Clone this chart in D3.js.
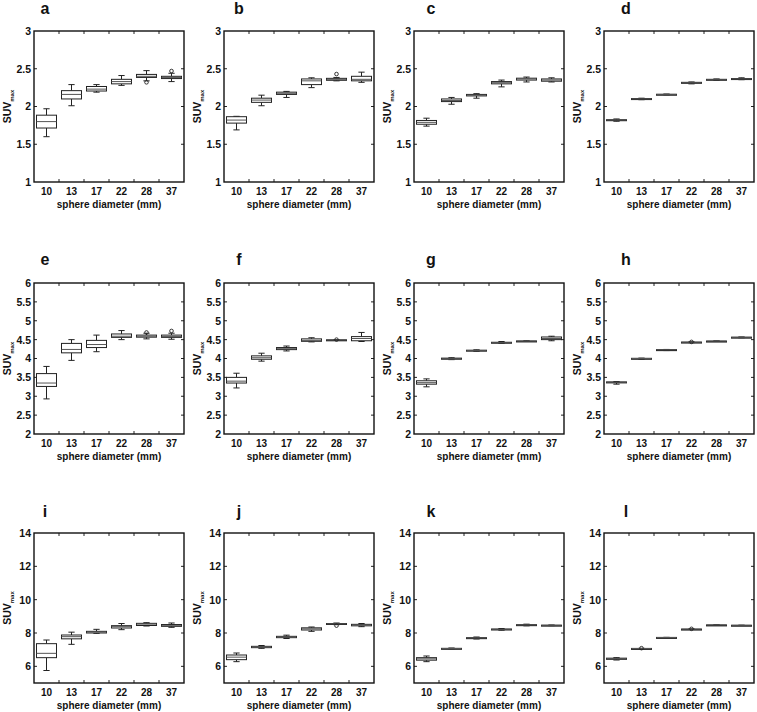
<!DOCTYPE html>
<html>
<head>
<meta charset="utf-8">
<script src="https://cdn.jsdelivr.net/npm/d3@7"></script>
<style>
  html, body { margin: 0; padding: 0; background: #fff; }
  svg { display: block; }
  text { font-family: "Liberation Sans", Arial, sans-serif; font-weight: bold; fill: #111; }
</style>
</head>
<body>
<svg id="chart" width="757" height="712"></svg>
<script>
// ---- data ----
const categories = ["10", "13", "17", "22", "28", "37"];
const panelLetters = ["a","b","c","d","e","f","g","h","i","j","k","l"];
const rowDomains = [[1, 3], [2, 6], [5, 14]];
const rowTicks = [
  [1, 1.5, 2, 2.5, 3],
  [2, 2.5, 3, 3.5, 4, 4.5, 5, 5.5, 6],
  [6, 8, 10, 12, 14]
];
const xLabel = "sphere diameter (mm)";

// five-number summaries [min, q1, median, q3, max] per category
const boxA = [[1.60,1.715,1.80,1.885,1.97],[2.01,2.10,2.16,2.21,2.29],[2.19,2.205,2.23,2.265,2.29],[2.28,2.30,2.33,2.36,2.41],[2.34,2.385,2.40,2.425,2.475],[2.33,2.37,2.385,2.40,2.44]];
const boxB = [[1.69,1.78,1.82,1.865,1.87],[2.01,2.055,2.085,2.11,2.15],[2.12,2.16,2.175,2.19,2.20],[2.25,2.29,2.34,2.365,2.38],[2.34,2.347,2.36,2.373,2.385],[2.32,2.34,2.36,2.40,2.455]];
const boxC = [[1.74,1.765,1.79,1.815,1.845],[2.03,2.065,2.08,2.10,2.12],[2.11,2.14,2.15,2.16,2.17],[2.26,2.30,2.315,2.33,2.35],[2.325,2.35,2.365,2.375,2.39],[2.325,2.335,2.35,2.365,2.38]];
const boxD = [[1.805,1.815,1.82,1.825,1.835],[2.09,2.095,2.10,2.105,2.11],[2.155,2.158,2.16,2.162,2.165],[2.30,2.31,2.315,2.32,2.325],[2.345,2.35,2.355,2.36,2.365],[2.355,2.36,2.365,2.37,2.38]];
const boxE = [[2.93,3.26,3.35,3.60,3.79],[3.95,4.15,4.24,4.40,4.50],[4.18,4.29,4.37,4.48,4.62],[4.50,4.56,4.59,4.65,4.74],[4.52,4.565,4.59,4.62,4.67],[4.51,4.56,4.585,4.62,4.67]];
const boxF = [[3.22,3.35,3.40,3.50,3.61],[3.93,3.98,4.02,4.07,4.14],[4.20,4.235,4.26,4.29,4.33],[4.44,4.455,4.48,4.52,4.55],[4.48,4.485,4.49,4.495,4.50],[4.45,4.47,4.53,4.58,4.69]];
const boxG = [[3.25,3.32,3.36,3.41,3.46],[3.97,3.98,3.99,4.01,4.02],[4.19,4.20,4.21,4.22,4.23],[4.40,4.41,4.42,4.43,4.45],[4.45,4.455,4.46,4.465,4.47],[4.47,4.50,4.53,4.57,4.59]];
const boxH = [[3.32,3.36,3.37,3.38,3.39],[3.98,3.99,4.00,4.005,4.01],[4.21,4.22,4.23,4.235,4.24],[4.42,4.425,4.43,4.435,4.44],[4.455,4.458,4.46,4.462,4.465],[4.55,4.555,4.56,4.565,4.57]];
const boxI = [[5.75,6.52,6.78,7.36,7.58],[7.32,7.65,7.78,7.88,8.05],[7.98,8.00,8.05,8.10,8.22],[8.20,8.30,8.38,8.44,8.57],[8.42,8.45,8.53,8.58,8.62],[8.34,8.40,8.46,8.51,8.60]];
const boxJ = [[6.28,6.40,6.55,6.68,6.80],[7.08,7.12,7.16,7.20,7.25],[7.67,7.72,7.76,7.80,7.87],[8.10,8.18,8.25,8.31,8.36],[8.50,8.53,8.55,8.57,8.60],[8.38,8.43,8.47,8.52,8.57]];
const boxK = [[6.28,6.37,6.45,6.52,6.62],[7.05,7.06,7.07,7.08,7.10],[7.64,7.67,7.70,7.72,7.76],[8.17,8.20,8.22,8.24,8.27],[8.43,8.46,8.48,8.50,8.53],[8.44,8.45,8.46,8.47,8.48]];
const boxL = [[6.38,6.42,6.46,6.49,6.52],[7.05,7.06,7.07,7.075,7.08],[7.72,7.725,7.73,7.735,7.74],[8.22,8.225,8.23,8.235,8.24],[8.47,8.475,8.48,8.485,8.49],[8.45,8.455,8.46,8.465,8.47]];
const allBoxes = [boxA, boxB, boxC, boxD, boxE, boxF, boxG, boxH, boxI, boxJ, boxK, boxL];

// outliers: [categoryIndex, value]
const outA = [[4, 2.32], [5, 2.47]];
const outB = [[4, 2.43]];
const outE = [[4, 4.69], [5, 4.73]];
const outF = [[4, 4.50]];
const outH = [[3, 4.44]];
const outJ = [[4, 8.44]];
const outL = [[1, 7.09], [3, 8.25]];
const allOutliers = [outA, outB, [], [], outE, outF, [], outH, [], outJ, [], outL];

// ---- layout ----
const colLeft = [34, 224, 414, 604];
const rowTop = [31, 283, 533];
const panelW = 150;
const panelH = [151, 151, 150];
const letterDx = [11, 15, 17, 22];
const letterDy = [-17.5, -18.5, -16];
const ink = "#222";

const svg = d3.select("#chart");

allBoxes.forEach((boxes, p) => {
  const r = Math.floor(p / 4), c = p % 4;
  const h = panelH[r];
  const g = svg.append("g").attr("transform", `translate(${colLeft[c]},${rowTop[r]})`);

  const x = d3.scaleBand().domain(categories).range([0, panelW]);
  const y = d3.scaleLinear().domain(rowDomains[r]).range([h, 0]);
  const bw = x.bandwidth() * 0.8;
  const capW = x.bandwidth() * 0.25;

  // axes: labels outside, ticks inside
  const yAxis = d3.axisLeft(y).tickValues(rowTicks[r]).tickSize(0).tickPadding(3)
    .tickFormat(d => String(d));
  g.append("g").call(yAxis).call(s => {
    s.select(".domain").remove();
    s.selectAll("text").attr("font-size", 10.5).attr("fill", "#111");
  });
  const xAxis = d3.axisBottom(x).tickSize(0).tickPadding(6);
  g.append("g").attr("transform", `translate(0,${h})`).call(xAxis).call(s => {
    s.select(".domain").remove();
    s.selectAll("text").attr("font-size", 10).attr("fill", "#111");
  });

  // inward tick marks
  const tl = 3;
  const bounds = categories.slice(1).map(cat => x(cat));
  g.selectAll(".tb").data(bounds).join("line")
    .attr("x1", d => d).attr("x2", d => d).attr("y1", h).attr("y2", h - tl)
    .attr("stroke", ink).attr("stroke-width", 1);
  g.selectAll(".tt").data(bounds).join("line")
    .attr("x1", d => d).attr("x2", d => d).attr("y1", 0).attr("y2", tl)
    .attr("stroke", ink).attr("stroke-width", 1);
  const yt = rowTicks[r].filter(v => v > rowDomains[r][0] && v < rowDomains[r][1]);
  g.selectAll(".tl").data(yt).join("line")
    .attr("x1", 0).attr("x2", tl).attr("y1", d => y(d)).attr("y2", d => y(d))
    .attr("stroke", ink).attr("stroke-width", 1);
  g.selectAll(".tr").data(yt).join("line")
    .attr("x1", panelW).attr("x2", panelW - tl).attr("y1", d => y(d)).attr("y2", d => y(d))
    .attr("stroke", ink).attr("stroke-width", 1);

  // boxes
  const bx = g.selectAll(".box").data(boxes).join("g")
    .attr("transform", (d, i) => `translate(${x(categories[i]) + x.bandwidth() / 2},0)`);
  bx.append("line").attr("x1", 0).attr("x2", 0)
    .attr("y1", d => y(d[4])).attr("y2", d => y(d[3]))
    .attr("stroke", ink).attr("stroke-width", 1);
  bx.append("line").attr("x1", 0).attr("x2", 0)
    .attr("y1", d => y(d[1])).attr("y2", d => y(d[0]))
    .attr("stroke", ink).attr("stroke-width", 1);
  bx.append("line").attr("x1", -capW / 2).attr("x2", capW / 2)
    .attr("y1", d => y(d[4])).attr("y2", d => y(d[4]))
    .attr("stroke", ink).attr("stroke-width", 1);
  bx.append("line").attr("x1", -capW / 2).attr("x2", capW / 2)
    .attr("y1", d => y(d[0])).attr("y2", d => y(d[0]))
    .attr("stroke", ink).attr("stroke-width", 1);
  bx.append("rect").attr("x", -bw / 2).attr("width", bw)
    .attr("y", d => y(d[3])).attr("height", d => Math.max(1, y(d[1]) - y(d[3])))
    .attr("fill", "#fff").attr("stroke", ink).attr("stroke-width", 1);
  bx.append("line").attr("x1", -bw / 2).attr("x2", bw / 2)
    .attr("y1", d => y(d[2])).attr("y2", d => y(d[2]))
    .attr("stroke", "#555").attr("stroke-width", 1);

  // outliers
  g.selectAll(".out").data(allOutliers[p]).join("circle")
    .attr("cx", d => x(categories[d[0]]) + x.bandwidth() / 2)
    .attr("cy", d => y(d[1])).attr("r", 1.8)
    .attr("fill", "none").attr("stroke", ink).attr("stroke-width", 0.9);

  // frame
  g.append("rect").attr("x", 0).attr("y", 0).attr("width", panelW).attr("height", h)
    .attr("fill", "none").attr("stroke", "#111").attr("stroke-width", 1.4);

  // panel letter
  g.append("text").attr("x", letterDx[c]).attr("y", letterDy[r])
    .attr("text-anchor", "middle").attr("font-size", 16).text(panelLetters[p]);

  // x label
  g.append("text").attr("x", panelW / 2).attr("y", h + 25.5)
    .attr("text-anchor", "middle").attr("font-size", 10).text(xLabel);

  // y label
  const yl = g.append("text")
    .attr("transform", `translate(${-23},${h / 2}) rotate(-90)`)
    .attr("text-anchor", "middle").attr("font-size", 10.5);
  yl.append("tspan").text("SUV");
  yl.append("tspan").attr("font-size", 6).attr("dy", 2.5).text("max");
});
</script>
</body>
</html>
